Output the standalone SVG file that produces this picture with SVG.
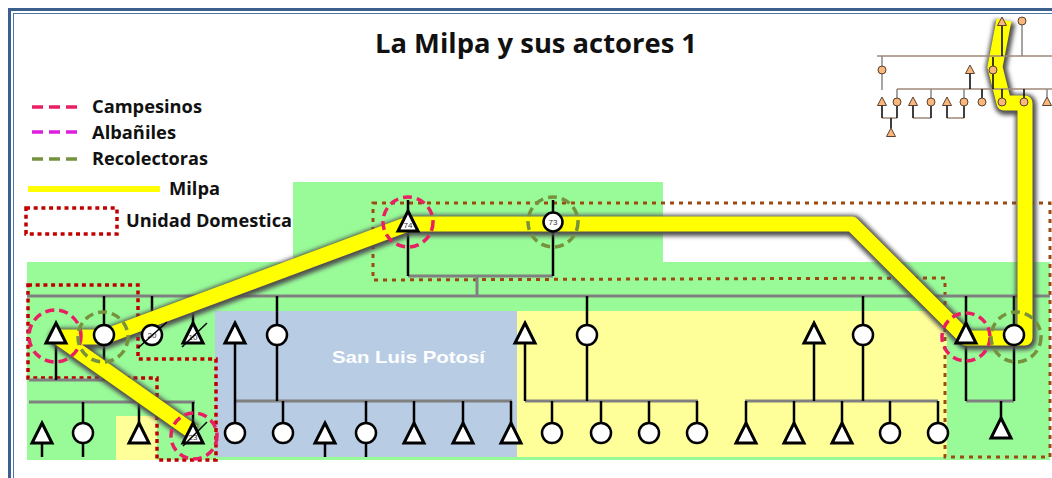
<svg xmlns="http://www.w3.org/2000/svg" xmlns:xlink="http://www.w3.org/1999/xlink" width="1052" height="478" viewBox="0 0 1052 478">
<style>
.t{font-family:"Open Sans","Liberation Sans",sans-serif;font-weight:bold;fill:#111}
.gl{stroke:#808080;stroke-width:3;fill:none}
.bl{stroke:#000;stroke-width:2.5;fill:none}
.nd{fill:#fff;stroke:#000;stroke-width:3;stroke-linejoin:miter}
.nc{fill:#fff;stroke:#000;stroke-width:2.5}
.lab{font-family:"Liberation Sans",sans-serif;font-size:8px;fill:#333;text-anchor:middle}
.sl{stroke:#000;stroke-width:1.5}
.pk{fill:none;stroke:#ea1e63;stroke-width:3.5;stroke-dasharray:9,5}
.ol{fill:none;stroke:#76923c;stroke-width:3.5;stroke-dasharray:9,5}
.ud{fill:none;stroke:#c00000;stroke-width:3.5;stroke-dasharray:4,3.7}
.ub{fill:none;stroke:#9c4a10;stroke-width:3;stroke-dasharray:4,5}
.sn{fill:#f9b77b;stroke:#5a4030;stroke-width:1}
.sh{stroke:#a08878;stroke-width:1.5;fill:none}
.sv{stroke:#000;stroke-width:1.5;fill:none}
</style>
<defs>
<path id="tri" d="M0,-12 L10,8 L-10,8 Z"/>
<path id="stri" d="M0,-5 L4.5,3.5 L-4.5,3.5 Z"/>
<filter id="blur" x="-10%" y="-10%" width="120%" height="120%"><feGaussianBlur stdDeviation="2"/></filter>
</defs>
<rect x="0" y="0" width="1052" height="478" fill="#fff"/>
<rect x="9.5" y="9.5" width="1100" height="600" fill="none" stroke="#3b5f8f" stroke-width="3"/>
<rect x="13.5" y="13.5" width="1100" height="600" fill="none" stroke="#4f74a8" stroke-width="1"/>

<g id="backgrounds">
<rect x="27" y="262" width="1023" height="198" fill="#98fb98"/>
<rect x="293" y="182" width="370" height="80" fill="#98fb98"/>
<rect x="215" y="311" width="302" height="146" fill="#b8cce4"/>
<rect x="517" y="311" width="430" height="146" fill="#ffff99"/>
<rect x="116" y="416" width="41" height="44" fill="#ffff99"/>
<text x="332" y="363" textLength="153" lengthAdjust="spacingAndGlyphs" style="font-family:'Liberation Sans',sans-serif;font-weight:bold;font-size:17px;fill:#fff">San Luis Potosí</text>
</g>

<text x="375" y="53" class="t" font-size="26" textLength="322" lengthAdjust="spacingAndGlyphs">La Milpa y sus actores 1</text>

<g id="legend">
<line x1="32" y1="107" x2="78" y2="107" stroke="#ea1e63" stroke-width="3.5" stroke-dasharray="11,6"/>
<text x="92" y="113" class="t" font-size="17" textLength="110" lengthAdjust="spacingAndGlyphs">Campesinos</text>
<line x1="32" y1="132" x2="78" y2="132" stroke="#e01ee0" stroke-width="3.5" stroke-dasharray="11,6"/>
<text x="92" y="139" class="t" font-size="17" textLength="84" lengthAdjust="spacingAndGlyphs">Albañiles</text>
<line x1="32" y1="159" x2="78" y2="159" stroke="#76923c" stroke-width="3.5" stroke-dasharray="11,6"/>
<text x="92" y="165" class="t" font-size="17" textLength="116" lengthAdjust="spacingAndGlyphs">Recolectoras</text>
<line x1="28" y1="189" x2="160" y2="189" stroke="#777" stroke-width="10" filter="url(#blur)"/>
<line x1="28" y1="189" x2="160" y2="189" stroke="#ffff00" stroke-width="6"/>
<text x="169" y="195" class="t" font-size="17" textLength="51" lengthAdjust="spacingAndGlyphs">Milpa</text>
<rect x="26" y="208" width="91" height="26" class="ud"/>
<text x="126" y="227" class="t" font-size="17" textLength="166" lengthAdjust="spacingAndGlyphs">Unidad Domestica</text>
</g>

<g id="unidades">
<polygon points="28,285 138,285 138,359 216,359 216,460 157,460 157,378 28,378" class="ud"/>
<polygon points="373,203 1050,203 1050,457 945,457 945,278 373,280" class="ub"/>
</g>

<g id="connectors">
<line x1="27" y1="296" x2="1050" y2="296" class="gl"/>
<line x1="408" y1="276" x2="553" y2="276" class="gl"/>
<line x1="477" y1="276" x2="477" y2="296" class="gl"/>
<line x1="29" y1="380" x2="105" y2="380" class="gl"/>
<line x1="29" y1="402" x2="195" y2="402" class="gl"/>
<line x1="235" y1="401" x2="512" y2="401" class="gl"/>
<line x1="525" y1="401" x2="698" y2="401" class="gl"/>
<line x1="745" y1="401" x2="938" y2="401" class="gl"/>
<line x1="966" y1="401" x2="1014" y2="401" class="gl"/>
<path class="bl" d="M408,200V276 M553,200V276 M56,343V380 M104,296V380 M152,296V325 M193,296V323 M42,443V457 M83,402V457 M139,402V423 M193,402V423 M235,343V401 M277,296V401 M235,401V423 M283,401V423 M325,443V457 M366,401V457 M414,401V423 M463,401V423 M511,401V423 M525,343V401 M587,296V401 M552,401V423 M601,401V423 M649,401V423 M697,401V423 M746,401V423 M794,401V423 M842,401V423 M890,401V423 M938,401V423 M814,343V401 M863,296V401 M966,296V401 M1014,296V401 M1001,401V418"/>
</g>

<g id="milpa">
<path d="M193,432 L58,337 L104,337 L408,224 L852,224 L966,338 L1025,338 L1025,103 L1004,103 L995,67 L1004,20" fill="none" stroke="#505050" stroke-width="21" stroke-linejoin="round" filter="url(#blur)" transform="translate(1,1.5)"/>
<path d="M193,432 L58,337 L104,337 L408,224 L852,224 L966,338 L1025,338 L1025,103 L1004,103 L995,67 L1004,20" fill="none" stroke="#ffff00" stroke-width="15" stroke-linejoin="round"/>
</g>

<g id="tree-small">
<path class="sh" d="M877,56H1052 M897,89H1052 M882,118H897 M913,118H931 M947,118H964"/>
<path class="sv" d="M1002,26V56 M993,57V89 M970,74V89 M982,89V98 M1024,89V98 M1002,89V98 M891,118V128 M882,106V118 M897,106V118 M913,106V118 M931,106V118 M947,106V118 M964,106V118"/>
<path d="M1022,25V56 M882,56V90 M897,89V98 M931,89V98 M964,89V98 M1047,89V97" stroke="#888" stroke-width="1.5" fill="none"/>
<use href="#stri" x="1002" y="22" class="sn"/>
<circle cx="1022" cy="21" r="4" class="sn"/>
<circle cx="882" cy="70" r="4" class="sn"/>
<use href="#stri" x="970" y="70" class="sn"/>
<circle cx="993" cy="70" r="4" class="sn"/>
<use href="#stri" x="882" y="102" class="sn"/>
<circle cx="897" cy="102" r="4" class="sn"/>
<use href="#stri" x="913" y="102" class="sn"/>
<circle cx="931" cy="102" r="4" class="sn"/>
<use href="#stri" x="947" y="102" class="sn"/>
<circle cx="964" cy="102" r="4" class="sn"/>
<circle cx="982" cy="102" r="4" class="sn"/>
<circle cx="1002" cy="102" r="4" class="sn"/>
<circle cx="1024" cy="102" r="4" class="sn"/>
<use href="#stri" x="1047" y="102" class="sn"/>
<use href="#stri" x="891" y="133" class="sn"/>
</g>

<g id="n74"><use href="#tri" x="408" y="223" class="nd"/><text x="408" y="228" class="lab" font-size="7">74</text></g>
<g id="n73"><circle cx="553" cy="222" r="9.5" class="nc"/><text x="553" y="225" class="lab" font-size="7">73</text></g>
<g id="nA"><use href="#tri" x="56" y="335" class="nd"/></g>
<g id="nB"><circle cx="104" cy="335" r="10" class="nc"/></g>
<g id="n20"><circle cx="152" cy="335" r="10" class="nc"/><text x="152" y="338" class="lab">20</text><line x1="138" y1="348" x2="167" y2="322" class="sl"/></g>
<g id="n10"><use href="#tri" x="193" y="335" class="nd"/><text x="193" y="340" class="lab">10</text><line x1="182" y1="347" x2="207" y2="323" class="sl"/></g>
<g id="nL1"><use href="#tri" x="42" y="435" class="nd"/></g>
<g id="nL2"><circle cx="83" cy="433" r="10" class="nc"/></g>
<g id="nL3"><use href="#tri" x="139" y="435" class="nd"/></g>
<g id="n23"><use href="#tri" x="193" y="435" class="nd"/><text x="193" y="440" class="lab">23</text><line x1="183" y1="446" x2="207" y2="422" class="sl"/></g>
<g id="nS1"><use href="#tri" x="235" y="335" class="nd"/></g>
<g id="nS2"><circle cx="277" cy="335" r="10" class="nc"/></g>
<g id="nS3"><circle cx="235" cy="433" r="10" class="nc"/></g>
<g id="nS4"><circle cx="283" cy="433" r="10" class="nc"/></g>
<g id="nS5"><use href="#tri" x="325" y="435" class="nd"/></g>
<g id="nS6"><circle cx="366" cy="433" r="10" class="nc"/></g>
<g id="nS7"><use href="#tri" x="414" y="435" class="nd"/></g>
<g id="nS8"><use href="#tri" x="463" y="435" class="nd"/></g>
<g id="nS9"><use href="#tri" x="511" y="435" class="nd"/></g>
<g id="nY1"><use href="#tri" x="525" y="335" class="nd"/></g>
<g id="nY2"><circle cx="587" cy="335" r="10" class="nc"/></g>
<g id="nY3"><circle cx="552" cy="433" r="10" class="nc"/></g>
<g id="nY4"><circle cx="601" cy="433" r="10" class="nc"/></g>
<g id="nY5"><circle cx="649" cy="433" r="10" class="nc"/></g>
<g id="nY6"><circle cx="697" cy="433" r="10" class="nc"/></g>
<g id="nY7"><use href="#tri" x="746" y="435" class="nd"/></g>
<g id="nY8"><use href="#tri" x="794" y="435" class="nd"/></g>
<g id="nY9"><use href="#tri" x="842" y="435" class="nd"/></g>
<g id="nY10"><circle cx="890" cy="433" r="10" class="nc"/></g>
<g id="nY11"><circle cx="938" cy="433" r="10" class="nc"/></g>
<g id="nY12"><use href="#tri" x="814" y="335" class="nd"/></g>
<g id="nY13"><circle cx="863" cy="335" r="10" class="nc"/></g>
<g id="nR1"><use href="#tri" x="966" y="335" class="nd"/></g>
<g id="nR2"><circle cx="1014" cy="335" r="10" class="nc"/></g>
<g id="nR3"><use href="#tri" x="1001" y="430" class="nd"/></g>

<g id="roles">
<circle cx="55" cy="336" r="26" class="pk"/>
<circle cx="103" cy="337" r="25" class="ol"/>
<circle cx="194" cy="436" r="23" class="pk"/>
<circle cx="408" cy="222" r="25" class="pk"/>
<circle cx="553" cy="222" r="25" class="ol"/>
<circle cx="966" cy="337" r="24" class="pk"/>
<circle cx="1016" cy="337" r="25" class="ol"/>
</g>
</svg>
